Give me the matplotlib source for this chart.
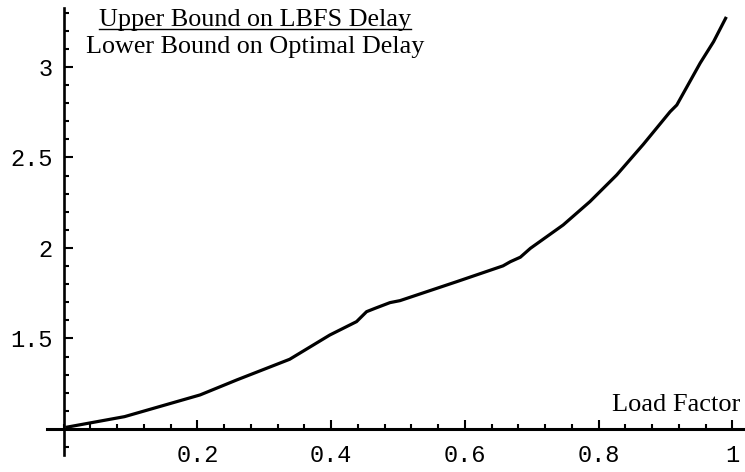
import numpy as np
import matplotlib
matplotlib.use("Agg")
import matplotlib.pyplot as plt
from matplotlib.ticker import MultipleLocator, FixedLocator
from matplotlib.lines import Line2D

# curve
load = [0.005, 0.091, 0.204, 0.259, 0.338, 0.398, 0.438, 0.453, 0.466, 0.488,
        0.503, 0.588, 0.657, 0.668, 0.683, 0.698, 0.747, 0.787, 0.827, 0.867,
        0.907, 0.917, 0.952, 0.972, 0.990]
ratio = [1.010, 1.068, 1.188, 1.271, 1.385, 1.519, 1.593, 1.648, 1.667, 1.698,
         1.709, 1.814, 1.901, 1.924, 1.949, 1.998, 2.127, 2.256, 2.403, 2.573,
         2.753, 2.790, 3.022, 3.140, 3.269]

xticks = [0.2, 0.4, 0.6, 0.8, 1.0]
xlabels = ["0.2", "0.4", "0.6", "0.8", "1"]
yticks = [1.5, 2.0, 2.5, 3.0]
ylabels = ["1.5", "2", "2.5", "3"]

fig = plt.figure(figsize=(7.45, 4.72), dpi=100)
ax = fig.add_axes([47 / 745, 17 / 472, 698 / 745, 447 / 472])
ax.set_xlim(-0.025, 1.019)
ax.set_ylim(0.856, 3.326)

ax.plot(load, ratio, color="black", lw=2.3, solid_joinstyle="round")

for s in ["top", "right"]:
    ax.spines[s].set_visible(False)
ax.spines["left"].set_position(("data", 0))
ax.spines["bottom"].set_position(("data", 1.0))
ax.spines["left"].set_linewidth(1.9)
ax.spines["bottom"].set_linewidth(2.2)

ax.xaxis.set_major_locator(FixedLocator(xticks))
ax.set_xticklabels(xlabels)
ax.xaxis.set_minor_locator(MultipleLocator(0.04))
ax.yaxis.set_major_locator(FixedLocator([1.0] + yticks))
ax.set_yticklabels([""] + ylabels)
ax.yaxis.set_minor_locator(MultipleLocator(0.1))

ax.tick_params(which="both", direction="in", width=1.5, color="black")
ax.tick_params(which="major", length=6.5)
ax.tick_params(which="minor", length=3.5)
ax.tick_params(axis="x", which="major", pad=11)
ax.tick_params(axis="y", which="major", pad=8)
for lab in ax.get_xticklabels() + ax.get_yticklabels():
    lab.set_fontfamily("Liberation Mono")
    lab.set_fontsize(17)

t1 = ax.text(0.286, 3.26, "Upper Bound on LBFS Delay", ha="center", va="center",
             family="Liberation Serif", fontsize=18.8)
ax.text(0.286, 3.11, "Lower Bound on Optimal Delay", ha="center", va="center",
        family="Liberation Serif", fontsize=18.8)
ax.text(1.012, 1.133, "Load Factor", ha="right", va="center",
        family="Liberation Serif", fontsize=19)

# underline the top line of the label, fraction style
fig.canvas.draw()
bb = t1.get_window_extent().transformed(fig.transFigure.inverted())
fig.add_artist(Line2D([bb.x0, bb.x1], [bb.y0 + 0.004, bb.y0 + 0.004],
                      transform=fig.transFigure, color="black", lw=1.0))

fig.savefig("out.png", dpi=100)
